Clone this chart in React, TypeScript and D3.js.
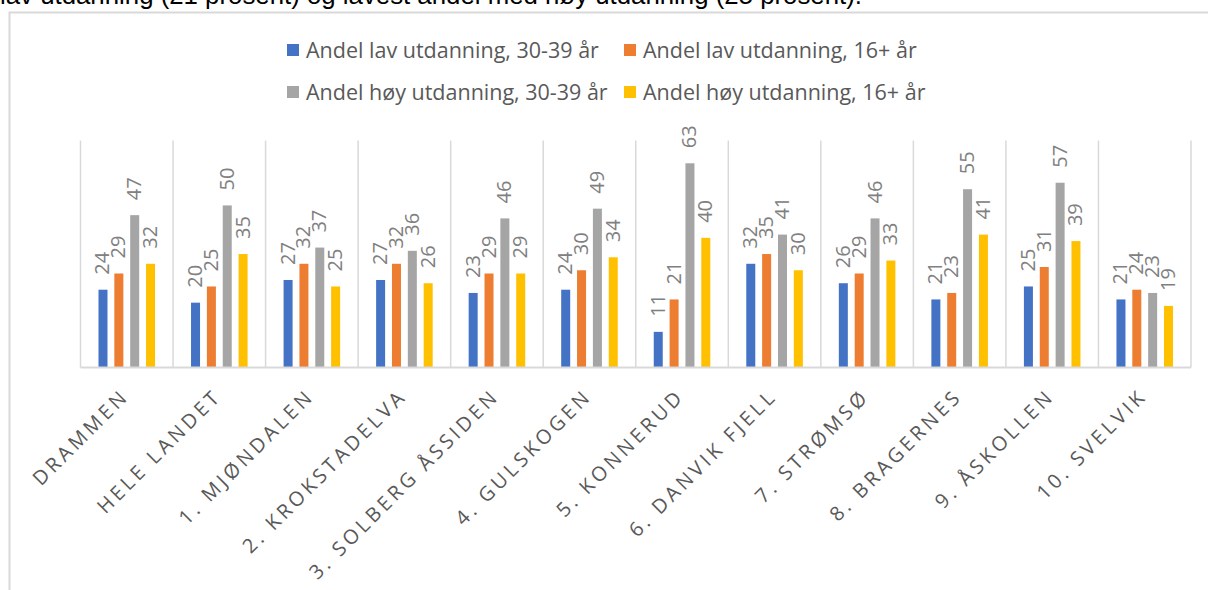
import React from "react";
import * as d3 from "d3";

const categories = [
  "DRAMMEN",
  "HELE LANDET",
  "1. MJØNDALEN",
  "2. KROKSTADELVA",
  "3. SOLBERG ÅSSIDEN",
  "4. GULSKOGEN",
  "5. KONNERUD",
  "6. DANVIK FJELL",
  "7. STRØMSØ",
  "8. BRAGERNES",
  "9. ÅSKOLLEN",
  "10. SVELVIK",
];

const seriesNames = [
  "Andel lav utdanning, 30-39 år",
  "Andel lav utdanning, 16+ år",
  "Andel høy utdanning, 30-39 år",
  "Andel høy utdanning, 16+ år",
];

const lavUng = [24, 20, 27, 27, 23, 24, 11, 32, 26, 21, 25, 21];
const lavAlle = [29, 25, 32, 32, 29, 30, 21, 35, 29, 23, 31, 24];
const hoyUng = [47, 50, 37, 36, 46, 49, 63, 41, 46, 55, 57, 23];
const hoyAlle = [32, 35, 25, 26, 29, 34, 40, 30, 33, 41, 39, 19];

const seriesValues = [lavUng, lavAlle, hoyUng, hoyAlle];
const colors = ["#4472C4", "#ED7D31", "#A5A5A5", "#FFC000"];

const introText =
  "lav utdanning (21 prosent) og lavest andel med høy utdanning (25 prosent).";

const FONT = "'Open Sans', 'Noto Sans', sans-serif";

export default function App() {
  const W = 1208;
  const H = 590;
  const x = d3.scaleBand<string>().domain(categories).range([80.5, 1191]).padding(0);
  const y = d3.scaleLinear().domain([0, 70]).range([367.5, 140.6]);
  const inner = d3
    .scaleBand<string>()
    .domain(seriesNames)
    .range([-31.7, 31.7])
    .paddingInner(0.432)
    .paddingOuter(0.216);

  const boundaries = [...categories.map((c) => x(c) as number), x.range()[1]];

  const legendCols = [287, 624];
  const legendRows = [50, 92];

  const ls = 3.5;

  return (
    <svg
      width={W}
      height={H}
      style={{ position: "absolute", left: 0, top: 0, background: "#fff" }}
      fontFamily={FONT}
    >
      <text
        x={0}
        y={4}
        fontFamily="'Liberation Sans Narrow', 'Liberation Sans', Arial, sans-serif"
        fontSize={26}
        textLength={862}
        lengthAdjust="spacingAndGlyphs"
        fill="#000"
      >
        {introText}
      </text>
      <rect x={9.5} y={12.5} width={1400} height={800} fill="#fff" stroke="#d9d9d9" strokeWidth={2} />

      {/* legend */}
      {seriesNames.map((name, i) => {
        const cx = legendCols[i % 2];
        const cy = legendRows[Math.floor(i / 2)];
        return (
          <g key={name}>
            <rect x={cx} y={cy - 6} width={12} height={12} fill={colors[i]} />
            <text x={cx + 19} y={cy} dy="0.35em" fontSize={21.5} fill="#595959">
              {name}
            </text>
          </g>
        );
      })}

      {/* vertical gridlines */}
      {boundaries.map((bx, i) => (
        <line key={i} x1={bx} x2={bx} y1={y(70)} y2={y(0)} stroke="#d9d9d9" strokeWidth={1.5} />
      ))}

      {/* bars */}
      {seriesNames.map((name, si) => (
        <g key={name}>
          {categories.map((c, ci) => {
            const v = seriesValues[si][ci];
            const cx = (x(c) as number) + x.bandwidth() / 2;
            const bx = cx + (inner(name) as number);
            return (
              <rect
                key={c}
                x={bx}
                y={y(v)}
                width={inner.bandwidth()}
                height={y(0) - y(v)}
                fill={colors[si]}
              />
            );
          })}
        </g>
      ))}

      {/* value labels */}
      {seriesNames.map((name, si) => (
        <g key={name + "l"}>
          {categories.map((c, ci) => {
            const v = seriesValues[si][ci];
            const cx = (x(c) as number) + x.bandwidth() / 2;
            const bc = cx + (inner(name) as number) + inner.bandwidth() / 2;
            return (
              <text
                key={c}
                transform={`translate(${bc + 6.5},${y(v) - 15}) rotate(-90)`}
                fontSize={20}
                fill="#808080"
                textAnchor="start"
              >
                {v}
              </text>
            );
          })}
        </g>
      ))}

      {/* x axis */}
      <line x1={x.range()[0]} x2={x.range()[1]} y1={y(0)} y2={y(0)} stroke="#d9d9d9" strokeWidth={2} />
      {categories.map((c) => {
        const cx = (x(c) as number) + x.bandwidth() / 2;
        return (
          <text
            key={c}
            transform={`translate(${cx + 1 + ls * 0.707},${395 + ls * 0.707}) rotate(-45)`}
            textAnchor="end"
            fontSize={20}
            letterSpacing={ls}
            fill="#595959"
          >
            {c}
          </text>
        );
      })}
    </svg>
  );
}
